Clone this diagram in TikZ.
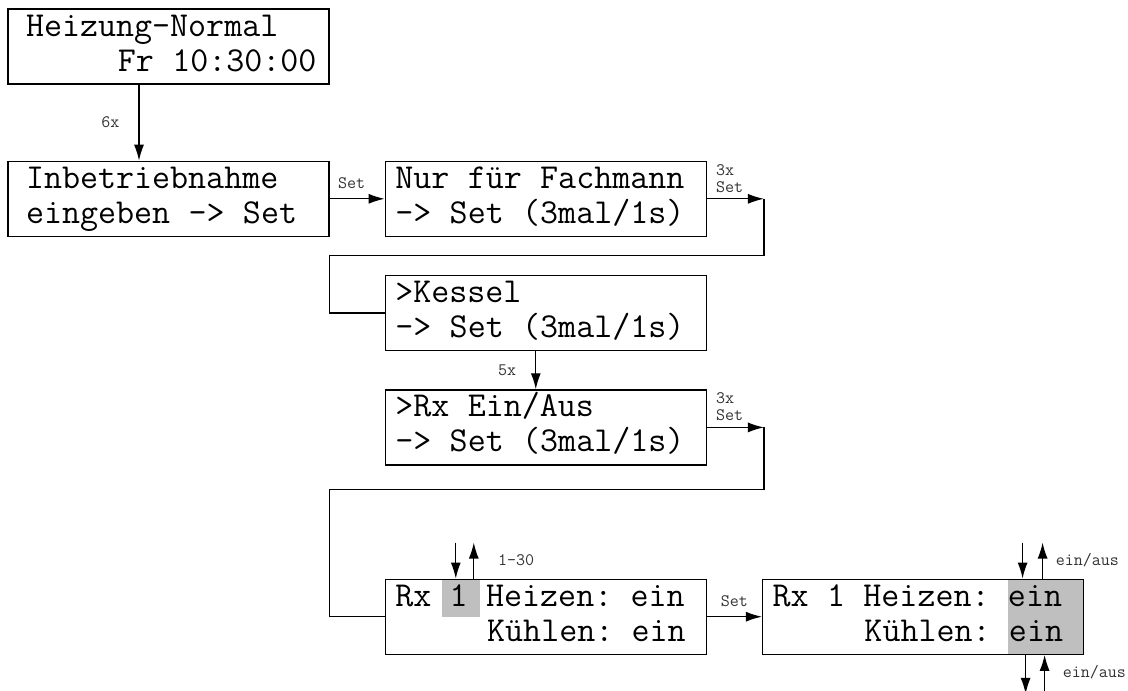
\documentclass[tikz,border=0pt]{standalone}
\usetikzlibrary{arrows.meta,positioning,backgrounds}

% one character cell of the display font
\newlength\lcdcell
\setlength\lcdcell{18.375pt}
\newcommand\blank[1][1]{\hspace*{#1\lcdcell}}

\begin{document}
\begin{tikzpicture}[x=1pt,y=-1pt,>={Latex[length=16pt,width=10pt]}]

    \tikzset{
      lcd/.style={
        draw,
        line width=1.3pt,
        minimum width=321pt,
        minimum height=75pt,
        inner ysep=0pt,
        inner xsep=10pt,
        text width=301pt,
        align=left,
        font=\ttfamily\fontsize{35}{35}\selectfont,
      },
      lcdwide/.style={
        lcd,
        inner xsep=18pt,
        text width=285pt,
      },
      lab/.style={
        inner sep=0pt,
        text=black!80,
        font=\ttfamily\fontsize{17.5}{17}\selectfont,
      },
      hl/.style={fill=black!25},
      conn/.style={line width=1.3pt},
    }

	\useasboundingbox (0,0) rectangle (1128,691);

	% displays
	\node[lcdwide] (A) at (168.5,46.5) {\strut Heizung-Normal\\\strut\blank[5]Fr\blank 10:30:00};
	\node[lcdwide,below=76pt of A] (B) {\strut Inbetriebnahme\\\strut eingeben\blank->\blank Set};
	\node[lcd,right=55pt of B] (C) {\strut Nur\blank für\blank Fachmann\\\strut ->\blank Set\blank (3mal/1s)};
	\node[lcd,below=38pt of C] (D) {\strut >Kessel\\\strut ->\blank Set\blank (3mal/1s)};
	\node[lcd,below=38pt of D] (E) {\strut >Rx\blank Ein/Aus\\\strut ->\blank Set\blank (3mal/1s)};
	\node[lcd,below=113pt of E] (F) {\strut Rx\blank 1\blank Heizen:\blank ein\\\strut\blank[5]Kühlen:\blank ein};
	\node[lcd,right=55pt of F] (G) {\strut Rx\blank 1\blank Heizen:\blank ein\\\strut\blank[5]Kühlen:\blank ein};

	% highlighted fields
	\begin{scope}[on background layer]
	\fill[hl] ([xshift=57pt]F.north west) rectangle ([xshift=95pt]F.west);
	\fill[hl] ([xshift=-76pt]G.north east) rectangle (G.south east);
	\end{scope}

	% free ends
	\coordinate (c1) at ([xshift=57pt]C.east);
	\coordinate (e1) at ([xshift=57pt]E.east);
	\coordinate (fin) at ([xshift=-90pt,yshift=36pt]F.north);
	\coordinate (fout) at ([xshift=-72pt,yshift=36pt]F.north);
	\coordinate (gin) at ([xshift=99.5pt,yshift=36pt]G.north);
	\coordinate (gout) at ([xshift=119.5pt,yshift=36pt]G.north);
	\coordinate (hin) at ([xshift=102.5pt,yshift=-39pt]G.south);
	\coordinate (hout) at ([xshift=121.5pt,yshift=-39pt]G.south);

	% transitions
	\draw[conn,->] ([xshift=-29.5pt]A.south) -- ([xshift=-29.5pt]B.north) node[lab,midway,left=19pt] {6x};
	\draw[conn,->] (B) -- (C) node[lab,pos=0.4,above=9pt] {Set};
	\draw[conn,->] (C) -- (c1);
	\draw[conn] (c1) -- ++(0,57) -| ([xshift=-55pt]D.west) -- (D.west);
	\node[lab,align=left,anchor=south west] at ([xshift=9pt,yshift=6pt]C.east) {3x\\Set};
	\draw[conn,->] ([xshift=-10pt]D.south) -- ([xshift=-10pt]E.north) node[lab,midway,left=19pt] {5x};
	\draw[conn,->] (E) -- (e1);
	\draw[conn] (e1) -- ++(0,62) -| ([xshift=-55pt]F.west) -- (F.west);
	\node[lab,align=left,anchor=south west] at ([xshift=9pt,yshift=6pt]E.east) {3x\\Set};
	\draw[conn,->] (F) -- (G) node[lab,midway,above=9pt] {Set};

	% up/down keys
	\draw[conn,->] (fin) -- (fin |- F.north);
	\draw[conn,->] (fout |- F.north) -- (fout);
	\node[lab,anchor=west] at ([xshift=24pt,yshift=-18pt]fout) {1-30};
	\draw[conn,->] (gin) -- (gin |- G.north);
	\draw[conn,->] (gout |- G.north) -- (gout);
	\node[lab,anchor=west] at ([xshift=13pt,yshift=-18pt]gout) {ein/aus};
	\draw[conn,->] (hin |- G.south) -- (hin);
	\draw[conn,->] (hout) -- (hout |- G.south);
	\node[lab,anchor=west] at ([xshift=18pt,yshift=22pt]hout) {ein/aus};

\end{tikzpicture}
\end{document}
